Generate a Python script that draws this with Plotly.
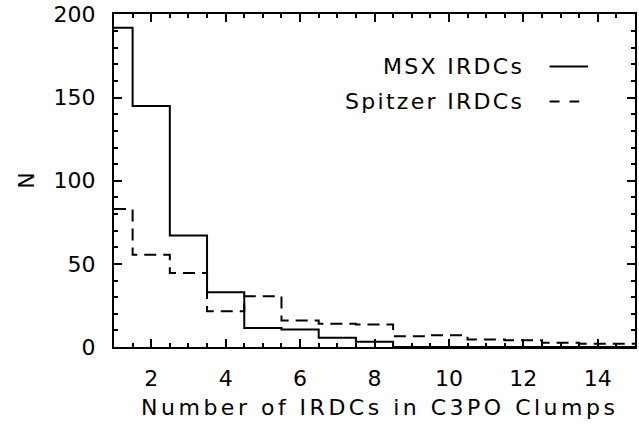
import plotly.graph_objects as go

n_irdcs = list(range(1, 16))
msx_counts = [192, 145, 67, 33, 11.5, 10.5, 5.5, 3.2, 0, 0, 0, 0, 0, 0, 0]
spitzer_counts = [83, 55.5, 44.5, 21.5, 30.5, 16, 14, 13.5, 6.5, 7, 4.5, 4, 2.5, 2, 2]

x_ticks = [2, 4, 6, 8, 10, 12, 14]
y_ticks = [0, 50, 100, 150, 200]

FONT = "DejaVu Sans"

fig = go.Figure()
fig.add_trace(go.Scatter(
    x=n_irdcs, y=msx_counts, mode="lines", line_shape="hvh",
    line=dict(color="black", width=2), name="MSX IRDCs", showlegend=False))
fig.add_trace(go.Scatter(
    x=n_irdcs, y=spitzer_counts, mode="lines", line_shape="hvh",
    line=dict(color="black", width=2, dash="12px,7px"), name="Spitzer IRDCs",
    showlegend=False))

axis_common = dict(
    showgrid=False, zeroline=False, showline=True, linecolor="black", linewidth=2,
    mirror="allticks", ticks="inside", tickcolor="black", tickwidth=2, ticklen=8,
    tickfont=dict(family=FONT, size=22, color="black"),
)

fig.update_xaxes(
    range=[1, 15], tickmode="array", tickvals=x_ticks,
    minor=dict(ticks="inside", tickvals=[v / 2 for v in range(2, 31)], ticklen=4,
               tickcolor="black", tickwidth=2),
    ticklabelstandoff=11,
    title=dict(text='<span style="letter-spacing:3.5px">&nbsp;Number of IRDCs in C3PO Clumps</span>',
               font=dict(family=FONT, size=22, color="black"), standoff=9),
    **axis_common)
fig.update_yaxes(
    range=[0, 200.3], tickmode="array", tickvals=y_ticks,
    minor=dict(ticks="inside", tickvals=list(range(0, 201, 10)), ticklen=4,
               tickcolor="black", tickwidth=2),
    ticklabelstandoff=12,
    title=dict(text="N", font=dict(family=FONT, size=22, color="black"), standoff=13),
    **axis_common)

# legend (text + sample lines)
fig.add_annotation(x=0.7916, y=0.842, xref="paper", yref="paper",
                   text='<span style="letter-spacing:2.3px">MSX IRDCs</span>',
                   showarrow=False, xanchor="right", yanchor="middle",
                   font=dict(family=FONT, size=22, color="black"))
fig.add_annotation(x=0.7916, y=0.737, xref="paper", yref="paper",
                   text='<span style="letter-spacing:2.3px">Spitzer IRDCs</span>',
                   showarrow=False, xanchor="right", yanchor="middle",
                   font=dict(family=FONT, size=22, color="black"))
fig.add_shape(type="line", xref="paper", yref="paper", x0=0.836, x1=0.910, y0=0.842, y1=0.842,
              line=dict(color="black", width=2))
fig.add_shape(type="line", xref="paper", yref="paper", x0=0.836, x1=0.893, y0=0.737, y1=0.737,
              line=dict(color="black", width=2, dash="10px,10px"))

fig.update_layout(
    width=639, height=425,
    margin=dict(l=114, r=2, t=12, b=78),
    paper_bgcolor="white", plot_bgcolor="white",
)

fig.write_html("out.html", config={"displayModeBar": False},
               post_script="document.body.style.margin='0';document.body.style.overflow='hidden';")
